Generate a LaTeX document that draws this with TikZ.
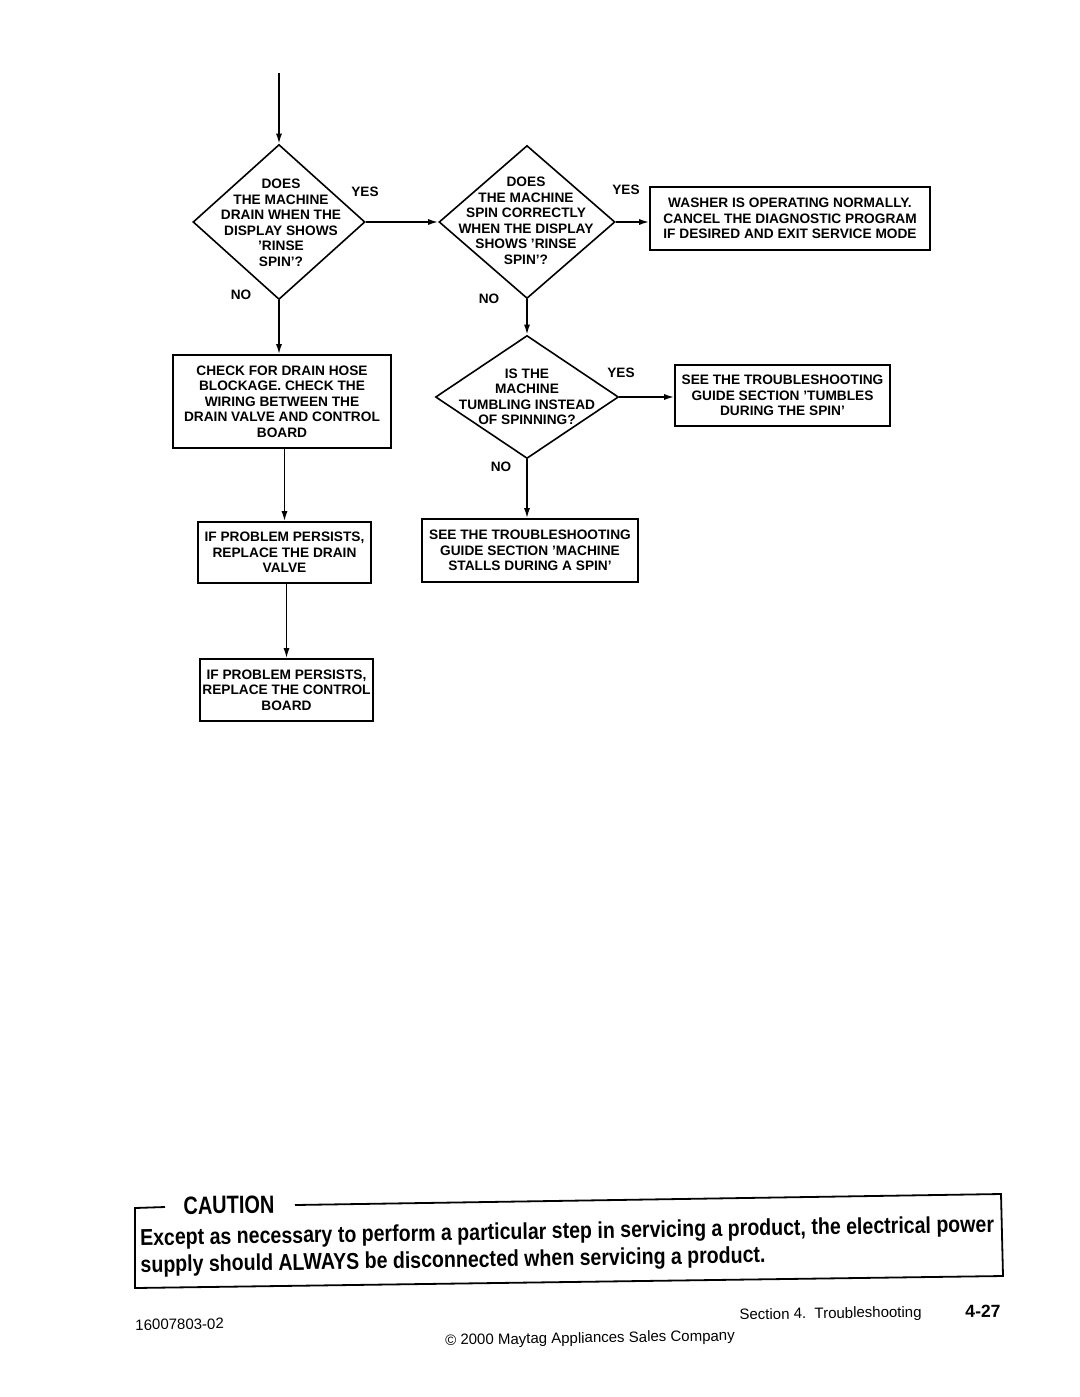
\documentclass[tikz,border=0pt]{standalone}
\usepackage{fontspec}
\setmainfont{Liberation Sans}
\newfontfamily\condfont[FakeStretch=0.8]{Liberation Sans}
\newfontfamily\warnfont[FakeStretch=0.85]{Liberation Sans}
\usetikzlibrary{shapes.geometric,arrows.meta}

\begin{document}
\begin{tikzpicture}[
        x=0.5pt, y=-0.5pt,
        every node/.style={font=\fontsize{6.85}{7.75}\selectfont\bfseries, align=center, inner sep=0pt},
        decision/.style={draw, diamond, line width=0.8pt},
        stepbox/.style={draw, rectangle, line width=0.8pt},
        answer/.style={font=\fontsize{6.8}{7.75}\selectfont\bfseries},
        flow/.style={line width=0.8pt, -{Latex[length=5pt,width=3pt]}},
        footer/.style={font=\fontsize{7.5}{9}\selectfont, rotate=0.9},
    ]
    \useasboundingbox (0,0) rectangle (1080,1397);

    % decisions
    \node[decision, minimum width=86pt, minimum height=77.5pt](drain) at (279,222){};
    \node(draintext) at (281,223){DOES\\THE MACHINE\\DRAIN WHEN THE\\DISPLAY SHOWS\\'RINSE\\SPIN'?};
    \node[decision, minimum width=88pt, minimum height=76.5pt](spin) at (527,222){};
    \node(spintext) at (526,221){DOES\\THE MACHINE\\SPIN CORRECTLY\\WHEN THE DISPLAY\\SHOWS 'RINSE\\SPIN'?};
    \node[decision, minimum width=91.5pt, minimum height=61.5pt](tumble) at (527,397){};
    \node(tumbletext) at (527,397){IS THE\\MACHINE\\TUMBLING INSTEAD\\OF SPINNING?};

    % actions
    \node[stepbox, minimum width=140pt, minimum height=31.5pt](normal) at (790,218.5)
        {WASHER IS OPERATING NORMALLY.\\CANCEL THE DIAGNOSTIC PROGRAM\\IF DESIRED AND EXIT SERVICE MODE};
    \node[stepbox, minimum width=109pt, minimum height=46.5pt](hose) at (282,401.5)
        {CHECK FOR DRAIN HOSE\\BLOCKAGE. CHECK THE\\WIRING BETWEEN THE\\DRAIN VALVE AND CONTROL\\BOARD};
    \node[stepbox, minimum width=86.5pt, minimum height=30.5pt](valve) at (284.5,552.5)
        {IF PROBLEM PERSISTS,\\REPLACE THE DRAIN\\VALVE};
    \node[stepbox, minimum width=86.5pt, minimum height=31pt](board) at (286.5,690)
        {IF PROBLEM PERSISTS,\\REPLACE THE CONTROL\\BOARD};
    \node[stepbox, minimum width=107.5pt, minimum height=30.5pt](tumbles) at (782.5,395.5)
        {SEE THE TROUBLESHOOTING\\GUIDE SECTION 'TUMBLES\\DURING THE SPIN'};
    \node[stepbox, minimum width=108pt, minimum height=31.5pt](stalls) at (530,550.5)
        {SEE THE TROUBLESHOOTING\\GUIDE SECTION 'MACHINE\\STALLS DURING A SPIN'};

    % connectors
    \coordinate (entry) at (279,73);
    \draw[flow] (entry) -- (drain.north);
    \draw[flow] (drain.east) -- (spin.west);
    \draw[flow] (spin.east) -- (spin.east -| normal.west);
    \draw[flow] (spin.south) -- (tumble.north);
    \draw[flow] (tumble.east) -- (tumble.east -| tumbles.west);
    \draw[flow] (tumble.south) -- (tumble.south |- stalls.north);
    \draw[flow] (drain.south) -- (drain.south |- hose.north);
    \draw[flow] (hose.south -| valve.north) -- (valve.north);
    \draw[flow] (valve.south -| board.north) -- (board.north);

    % answers
    \node[answer](yes1) at (365,192){YES};
    \node[answer](no1) at (241,295){NO};
    \node[answer](yes2) at (626,190){YES};
    \node[answer](no2) at (489,299){NO};
    \node[answer](yes3) at (621,373){YES};
    \node[answer](no3) at (501,467){NO};

    % caution
    \draw[line width=0.9pt] (165,1207) -- (135,1208) -- (135,1288) -- (1003,1276) -- (1001,1194) -- (295,1205);
    \node[font=\fontsize{12.5}{14}\selectfont\condfont\bfseries, rotate=0.9](caution) at (229,1205){CAUTION};
    \node[font=\fontsize{11.5}{13.5}\selectfont\warnfont\bfseries, align=left, anchor=west, rotate=0.9](warning) at (140,1253)
        {Except as necessary to perform a particular step in servicing a product, the electrical power\\
         supply should ALWAYS be disconnected when servicing a product.};

    % footer
    \node[footer, anchor=west](docno) at (135,1325){16007803-02};
    \node[footer, anchor=east](section) at (922,1313){Section 4.\ \ Troubleshooting};
    \node[footer, anchor=east, font=\fontsize{8.8}{10}\selectfont\bfseries](page) at (1001,1311){4-27};
    \node[footer](copy) at (590,1339){\textcopyright{} 2000 Maytag Appliances Sales Company};
\end{tikzpicture}
\end{document}
